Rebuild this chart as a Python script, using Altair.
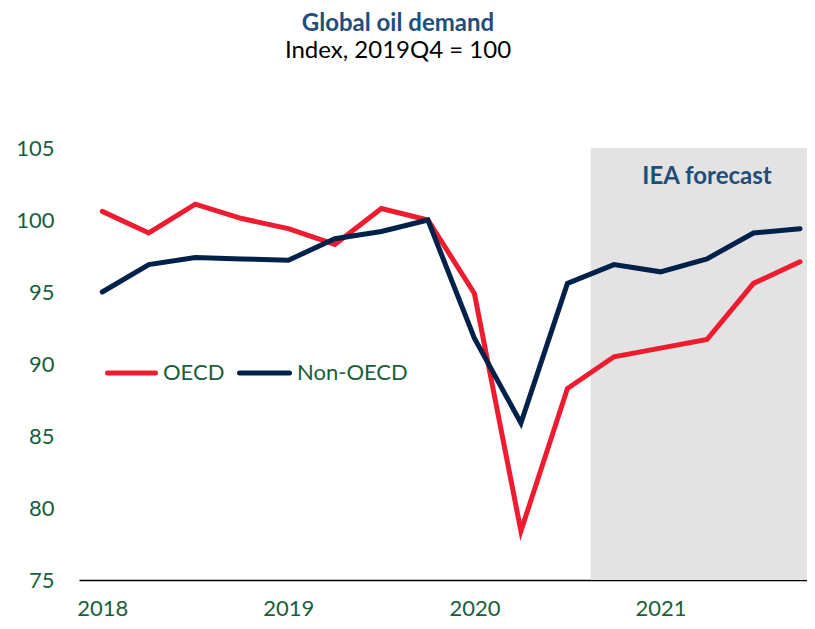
import altair as alt
import pandas as pd

# ---- data ----
quarters = ["2018Q1", "2018Q2", "2018Q3", "2018Q4",
            "2019Q1", "2019Q2", "2019Q3", "2019Q4",
            "2020Q1", "2020Q2", "2020Q3", "2020Q4",
            "2021Q1", "2021Q2", "2021Q3", "2021Q4"]
oecd = [100.6, 99.1, 101.1, 100.1, 99.4, 98.3, 100.8, 100.0,
        94.9, 78.4, 88.3, 90.5, 91.1, 91.7, 95.6, 97.1]
non_oecd = [95.0, 96.9, 97.4, 97.3, 97.2, 98.7, 99.2, 100.0,
            91.8, 85.9, 95.6, 96.9, 96.4, 97.3, 99.1, 99.4]
series = ["OECD", "Non-OECD"]
series_colors = ["#EE1C2E", "#00214A"]
year_labels = ["2018", "2019", "2020", "2021"]
y_ticks = [75, 80, 85, 90, 95, 100, 105]
forecast_start = 10.5   # between 2020Q3 and 2020Q4 (quarter index)
title_text = "Global oil demand"
subtitle_text = "Index, 2019Q4 = 100"
forecast_text = "IEA forecast"

FONT = "Lato"
GREEN = "#17603A"
BLUE = "#1F4E79"

X_MIN, X_MAX = -0.5, 15.15
Y_MIN, Y_MAX = 75, 105

rows = []
for i, q in enumerate(quarters):
    rows.append({"i": i, "quarter": q, "series": series[0], "value": oecd[i]})
for i, q in enumerate(quarters):
    rows.append({"i": i, "quarter": q, "series": series[1], "value": non_oecd[i]})
df = pd.DataFrame(rows)

x_scale = alt.Scale(domain=[X_MIN, X_MAX], nice=False, zero=False)
y_scale = alt.Scale(domain=[Y_MIN, Y_MAX], nice=False, zero=False)
color_scale = alt.Scale(domain=series, range=series_colors)

label_expr = "[" + ",".join("'%s'" % y for y in year_labels) + "][round(datum.value/4)]"

x_axis = alt.Axis(values=[0, 4, 8, 12], labelExpr=label_expr, title=None, grid=False,
                  ticks=False, domain=True, domainColor="#000000", domainWidth=1.6,
                  labelFont=FONT, labelFontSize=22, labelColor=GREEN, labelPadding=18,
                  labelBaseline="top")
y_axis = alt.Axis(values=y_ticks, title=None, grid=False, ticks=False, domain=False,
                  labelFont=FONT, labelFontSize=22, labelColor=GREEN, labelPadding=25)

# forecast shading
shade_df = pd.DataFrame({"x": [forecast_start], "x2": [X_MAX], "y": [Y_MIN], "y2": [Y_MAX]})
shade = alt.Chart(shade_df).mark_rect(color="#E3E3E3").encode(
    x=alt.X("x:Q", scale=x_scale, axis=x_axis),
    x2="x2:Q",
    y=alt.Y("y:Q", scale=y_scale, axis=y_axis),
    y2="y2:Q",
)

def line_layer(name):
    return alt.Chart(df).transform_filter(alt.datum.series == name).mark_line(
        strokeWidth=5, strokeCap="round", strokeJoin="miter"
    ).encode(
        x=alt.X("i:Q", scale=x_scale, axis=x_axis),
        y=alt.Y("value:Q", scale=y_scale, axis=y_axis),
        color=alt.Color("series:N", scale=color_scale, legend=None),
    )

lines = [line_layer(s) for s in series]

forecast_label = alt.Chart(pd.DataFrame({"t": [forecast_text]})).mark_text(
    font=FONT, fontSize=24, fontWeight="bold", color=BLUE, align="center", baseline="middle"
).encode(text="t:N", x=alt.value(628), y=alt.value(29))

title = alt.Chart(pd.DataFrame({"t": [title_text]})).mark_text(
    font=FONT, fontSize=24, fontWeight="bold", color=BLUE, align="center", baseline="middle"
).encode(text="t:N", x=alt.value(319), y=alt.value(-124))

subtitle = alt.Chart(pd.DataFrame({"t": [subtitle_text]})).mark_text(
    font=FONT, fontSize=24, color="#000000", align="center", baseline="middle"
).encode(text="t:N", x=alt.value(319), y=alt.value(-97))

# legend (inside plot)
legend_layers = []
legend_pos = [(28.5, 76.5, 84), (160.5, 210.5, 218)]
for (x0, x1, tx), name in zip(legend_pos, series):
    ldf = pd.DataFrame({"series": [name]})
    legend_layers.append(alt.Chart(ldf).mark_rule(strokeWidth=5, strokeCap="round").encode(
        x=alt.value(x0), x2=alt.value(x1), y=alt.value(225),
        color=alt.Color("series:N", scale=color_scale, legend=None)))
    legend_layers.append(alt.Chart(ldf).mark_text(
        font=FONT, fontSize=22, color=GREEN, align="left", baseline="middle").encode(
        text="series:N", x=alt.value(tx), y=alt.value(225)))

chart = alt.layer(shade, *lines, forecast_label, title, subtitle, *legend_layers).properties(
    width=728, height=432,
    background="#FFFFFF",
    autosize=alt.AutoSizeParams(type="none"),
    padding={"left": 71, "top": 140, "right": 0, "bottom": 41},
).configure_view(stroke=None)

chart.save("out.html", embed_options={"renderer": "svg", "actions": False})
